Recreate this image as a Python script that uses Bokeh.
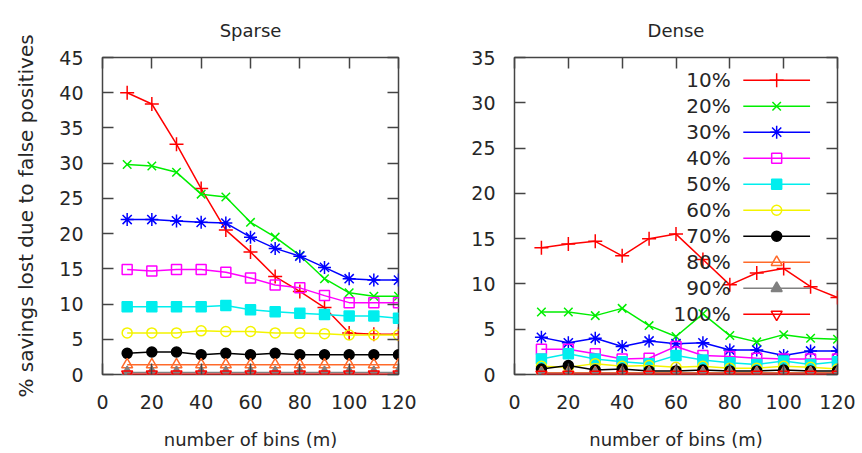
from bokeh.plotting import figure
from bokeh.layouts import row
from bokeh.models import Range1d, LinearAxis, SingleIntervalTicker, CustomJSTickFormatter, Title
from bokeh.core.properties import value
from bokeh.embed import file_html
from bokeh.resources import INLINE

bins = [10, 20, 30, 40, 50, 60, 70, 80, 90, 100, 110, 120]
labels = ["10%", "20%", "30%", "40%", "50%", "60%", "70%", "80%", "90%", "100%"]
colors = ["#ff0000", "#00ee00", "#0000ff", "#ff00ff", "#00eeee",
          "#f4f400", "#000000", "#ff6a2a", "#808080", "#ff0000"]

sparse_10 = [40.0, 38.4, 32.7, 26.4, 20.5, 17.4, 13.9, 11.8, 9.5, 5.9, 5.7, 5.7]
sparse_20 = [29.8, 29.6, 28.7, 25.6, 25.2, 21.6, 19.5, 16.9, 13.6, 11.6, 11.1, 11.1]
sparse_30 = [22.0, 22.0, 21.8, 21.6, 21.5, 19.5, 17.9, 16.8, 15.2, 13.6, 13.4, 13.4]
sparse_40 = [14.9, 14.7, 14.9, 14.9, 14.5, 13.7, 12.7, 12.3, 11.2, 10.2, 10.2, 10.2]
sparse_50 = [9.6, 9.6, 9.6, 9.6, 9.8, 9.2, 8.9, 8.7, 8.5, 8.3, 8.3, 8.0]
sparse_60 = [5.9, 5.9, 5.9, 6.2, 6.1, 6.1, 5.9, 5.9, 5.8, 5.6, 5.6, 5.6]
sparse_70 = [3.0, 3.2, 3.2, 2.8, 3.0, 2.8, 3.0, 2.8, 2.8, 2.8, 2.8, 2.8]
sparse_80 = [1.4, 1.4, 1.4, 1.4, 1.4, 1.4, 1.4, 1.4, 1.4, 1.4, 1.4, 1.4]
sparse_90 = [0.3, 0.3, 0.3, 0.3, 0.3, 0.3, 0.3, 0.3, 0.3, 0.3, 0.3, 0.3]
sparse_100 = [0.05, 0.05, 0.05, 0.05, 0.05, 0.05, 0.05, 0.05, 0.05, 0.05, 0.05, 0.05]

dense_10 = [14.0, 14.4, 14.7, 13.1, 15.0, 15.5, 12.7, 9.9, 11.2, 11.7, 9.7, 8.5]
dense_20 = [6.9, 6.9, 6.5, 7.3, 5.4, 4.2, 6.7, 4.3, 3.6, 4.4, 4.0, 3.9]
dense_30 = [4.1, 3.5, 4.0, 3.1, 3.7, 3.4, 3.5, 2.7, 2.7, 2.1, 2.6, 2.6]
dense_40 = [2.8, 2.8, 2.3, 1.7, 1.8, 3.1, 2.1, 2.0, 1.8, 1.7, 1.7, 1.7]
dense_50 = [1.7, 2.3, 1.7, 1.4, 1.2, 2.1, 1.6, 1.3, 1.1, 1.5, 1.1, 1.4]
dense_60 = [0.9, 0.8, 1.2, 0.9, 1.0, 0.8, 0.9, 0.7, 0.7, 0.9, 0.8, 0.6]
dense_70 = [0.6, 1.0, 0.5, 0.6, 0.4, 0.4, 0.5, 0.4, 0.4, 0.5, 0.4, 0.4]
dense_80 = [0.2, 0.2, 0.2, 0.2, 0.2, 0.2, 0.2, 0.2, 0.2, 0.2, 0.2, 0.2]
dense_90 = [0.1, 0.1, 0.1, 0.1, 0.1, 0.1, 0.1, 0.1, 0.1, 0.1, 0.1, 0.1]
dense_100 = [0.02, 0.02, 0.02, 0.02, 0.02, 0.02, 0.02, 0.02, 0.02, 0.02, 0.02, 0.02]

sparse = [sparse_10, sparse_20, sparse_30, sparse_40, sparse_50,
          sparse_60, sparse_70, sparse_80, sparse_90, sparse_100]
dense = [dense_10, dense_20, dense_30, dense_40, dense_50,
         dense_60, dense_70, dense_80, dense_90, dense_100]

# marker style per series: (marker, filled, size)
markers = [("cross", False, 14), ("x", False, 12), ("asterisk", False, 13),
           ("square", False, 10), ("square", True, 10), ("circle", False, 10),
           ("circle", True, 10), ("triangle", False, 11), ("triangle", True, 11),
           ("inverted_triangle", False, 11)]

FONT = "DejaVu Sans"
TXT = "#262626"
FRAME = "#444444"


def style_axis(ax, show_labels, standoff):
    ax.major_tick_in = 11
    ax.major_tick_out = 0
    ax.minor_tick_line_color = None
    ax.major_tick_line_color = FRAME
    ax.major_tick_line_width = 1.5
    ax.axis_line_color = None
    ax.major_label_text_font = FONT
    ax.major_label_text_color = TXT
    ax.major_label_text_font_size = "19px"
    ax.major_label_standoff = standoff
    if not show_labels:
        ax.formatter = CustomJSTickFormatter(code="return ''")
        ax.major_label_text_font_size = "1px"
        ax.major_label_standoff = 0


def make_fig(title, ymax, width, bl, br, ylabel):
    p = figure(width=width, height=452, output_backend="svg", toolbar_location=None,
               x_range=Range1d(0, 120), y_range=Range1d(0, ymax),
               min_border_left=bl, min_border_right=br,
               min_border_top=57, min_border_bottom=77)
    p.grid.visible = False
    p.outline_line_color = FRAME
    p.outline_line_width = 1.5
    p.background_fill_color = "white"
    p.border_fill_color = "white"
    p.xaxis.ticker = SingleIntervalTicker(interval=20)
    p.yaxis.ticker = SingleIntervalTicker(interval=5)
    style_axis(p.xaxis[0], True, 16)
    style_axis(p.yaxis[0], True, 15)
    p.xaxis.axis_label = "number of bins (m)"
    p.xaxis.axis_label_text_font = FONT
    p.xaxis.axis_label_text_font_size = "18px"
    p.xaxis.axis_label_text_font_style = "normal"
    p.xaxis.axis_label_text_color = TXT
    p.xaxis.axis_label_standoff = 17
    if ylabel:
        p.yaxis.axis_label = ylabel
        p.yaxis.axis_label_text_font = FONT
        p.yaxis.axis_label_text_font_size = "20px"
        p.yaxis.axis_label_text_font_style = "normal"
        p.yaxis.axis_label_text_color = TXT
        p.yaxis.axis_label_standoff = 18
    ra = LinearAxis(ticker=SingleIntervalTicker(interval=5))
    style_axis(ra, False, 0)
    p.add_layout(ra, "right")
    ta = LinearAxis(ticker=SingleIntervalTicker(interval=20))
    style_axis(ta, False, 0)
    p.add_layout(ta, "above")
    t = Title(text=title, text_font=FONT, text_font_size="18px", text_font_style="normal",
              text_color=TXT, align="center", standoff=26)
    p.add_layout(t, "above")
    return p


def add_series(p, xs, ys, color, mk):
    name, filled, size = mk
    p.line(xs, ys, line_color=color, line_width=1.5)
    p.scatter(xs, ys, marker=name, size=size, line_color=color, line_width=1.5,
              fill_color=color if filled else None)


p1 = make_fig("Sparse", 45, 440, 102, 42, "% savings lost due to false positives")
p2 = make_fig("Dense", 35, 420, 74, 23, None)

for ys, c, mk in zip(sparse, colors, markers):
    add_series(p1, bins, ys, c, mk)
for ys, c, mk in zip(dense, colors, markers):
    add_series(p2, bins, ys, c, mk)

# legend (gnuplot style: right-aligned text, then line sample with marker)
row_step = 2.873
leg_y = [32.5 - i * row_step for i in range(len(labels))]
p2.text(x=[80.3] * len(labels), y=leg_y, text=labels, text_align="right",
        text_baseline="middle", text_font=value(FONT), text_font_size="20px",
        text_color=TXT)
for ly, c, mk in zip(leg_y, colors, markers):
    name, filled, size = mk
    p2.segment(x0=[85.0], y0=[ly], x1=[109.8], y1=[ly], line_color=c, line_width=1.5)
    p2.scatter([97.4], [ly], marker=name, size=size, line_color=c, line_width=1.5,
               fill_color=c if filled else None)

layout = row(p1, p2)
open("out.html", "w").write(file_html(layout, INLINE))
